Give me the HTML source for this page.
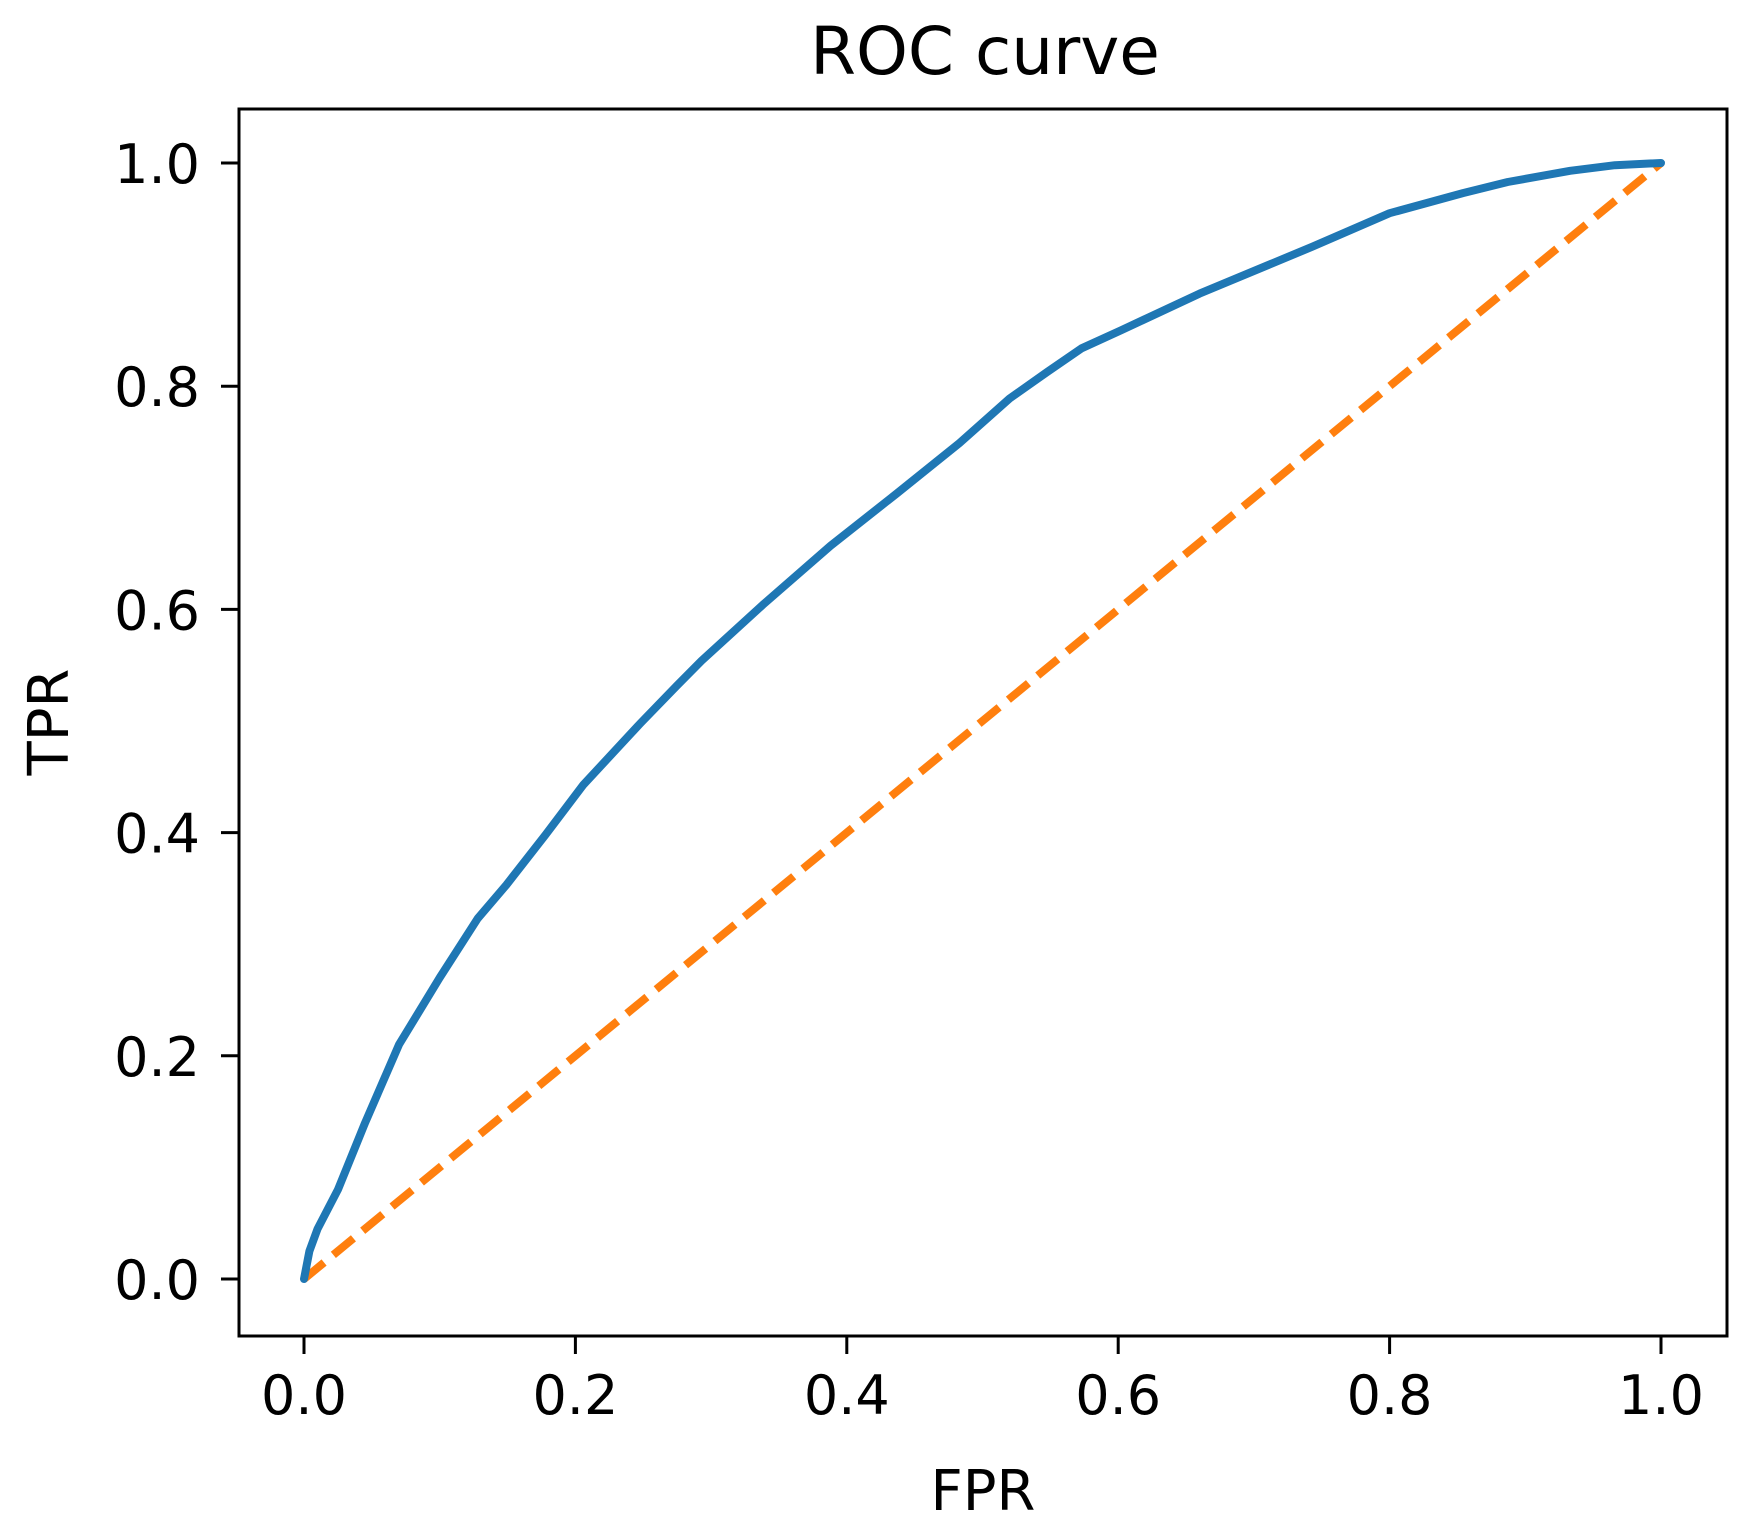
<!DOCTYPE html>
<html><head><meta charset="utf-8"><style>
html,body{margin:0;padding:0;background:#fff;}
svg{display:block;}
text{font-family:"DejaVu Sans","Liberation Sans",sans-serif;fill:#000;}
</style></head><body>
<svg id="chart" width="1757" height="1528" viewBox="0 0 1757 1528" xmlns="http://www.w3.org/2000/svg">
<text x="985" y="74" font-size="66" text-anchor="middle">ROC curve</text>
<rect x="239" y="109" width="1488" height="1227" fill="none" stroke="#000" stroke-width="3"/>
<g id="xticks"></g>
<g id="yticks"></g>
<path id="diag" fill="none" stroke="#ff7f0e" stroke-width="8" stroke-dasharray="26,12"/>
<path id="roc" fill="none" stroke="#1f77b4" stroke-width="8" stroke-linejoin="round" stroke-linecap="round"/>
<text x="983" y="1510" font-size="56" text-anchor="middle">FPR</text>
<text x="0" y="0" font-size="56" text-anchor="middle" transform="translate(68,722) rotate(-90)">TPR</text>
</svg>
<script>
const fprValues=[0,0.004,0.01,0.025,0.045,0.07,0.1,0.128,0.149,0.178,0.206,0.248,0.275,0.293,0.338,0.388,0.437,0.483,0.52,0.548,0.573,0.602,0.66,0.743,0.8,0.854,0.887,0.933,0.966,1];
const tprValues=[0,0.025,0.045,0.08,0.14,0.21,0.27,0.323,0.353,0.398,0.443,0.498,0.532,0.554,0.604,0.657,0.704,0.749,0.789,0.813,0.834,0.85,0.883,0.925,0.955,0.973,0.983,0.993,0.998,1];
const chanceX=[0,1];
const chanceY=[0,1];
const xTickLabels=["0.0","0.2","0.4","0.6","0.8","1.0"];
const yTickLabels=["0.0","0.2","0.4","0.6","0.8","1.0"];
const NS="http://www.w3.org/2000/svg";
function sx(v){return 304+v*(1661-304);}
function sy(v){return 1279-v*(1279-163);}
function pathFrom(xs,ys){return xs.map((x,i)=>(i?'L':'M')+sx(x).toFixed(1)+','+sy(ys[i]).toFixed(1)).join(' ');}
document.getElementById('roc').setAttribute('d',pathFrom(fprValues,tprValues));
document.getElementById('diag').setAttribute('d',pathFrom(chanceX,chanceY));
const xg=document.getElementById('xticks'), yg=document.getElementById('yticks');
xTickLabels.forEach(l=>{
  const v=parseFloat(l), x=sx(v);
  const t=document.createElementNS(NS,'line');
  t.setAttribute('x1',x);t.setAttribute('x2',x);t.setAttribute('y1',1336);t.setAttribute('y2',1354);
  t.setAttribute('stroke','#000');t.setAttribute('stroke-width','3');
  
  
  xg.appendChild(t);
  const s=document.createElementNS(NS,'text');
  s.setAttribute('x',x);s.setAttribute('y',1414);s.setAttribute('font-size','54');s.setAttribute('text-anchor','middle');
  s.textContent=l;
  
  
  xg.appendChild(s);
});
yTickLabels.forEach(l=>{
  const v=parseFloat(l), y=sy(v);
  const t=document.createElementNS(NS,'line');
  t.setAttribute('x1',221);t.setAttribute('x2',239);t.setAttribute('y1',y);t.setAttribute('y2',y);
  t.setAttribute('stroke','#000');t.setAttribute('stroke-width','3');
  
  
  yg.appendChild(t);
  const s=document.createElementNS(NS,'text');
  s.setAttribute('x',200);s.setAttribute('y',y+20);s.setAttribute('font-size','54');s.setAttribute('text-anchor','end');
  s.textContent=l;
  
  
  yg.appendChild(s);
});
</script>
</body></html>
